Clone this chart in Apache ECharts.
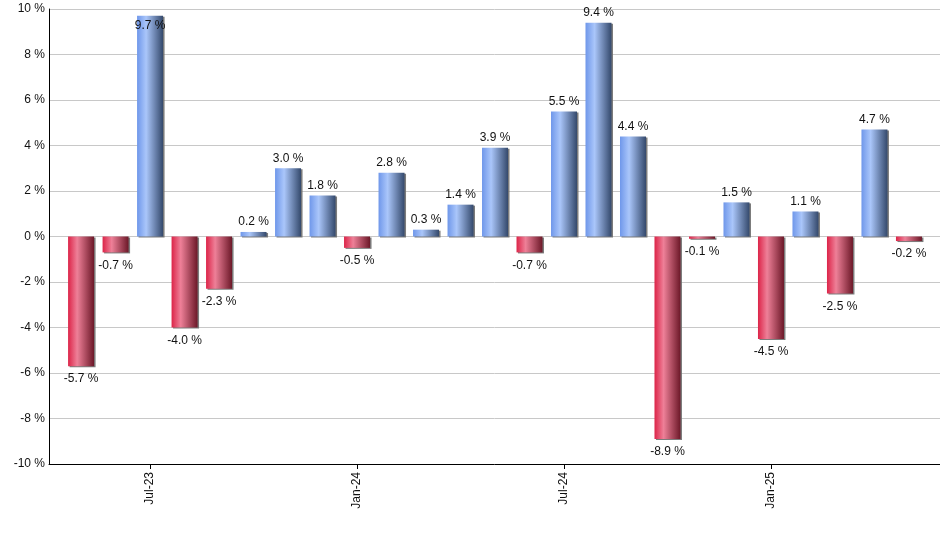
<!DOCTYPE html>
<html>
<head>
<meta charset="utf-8">
<script src="https://cdn.jsdelivr.net/npm/echarts@6/dist/echarts.min.js"></script>
<style>
html,body{margin:0;padding:0;background:#fff;}
#c{width:940px;height:550px;}
</style>
</head>
<body>
<div id="c"></div>
<script>
var months = ['May-23','Jun-23','Jul-23','Aug-23','Sep-23','Oct-23','Nov-23','Dec-23','Jan-24','Feb-24','Mar-24','Apr-24','May-24','Jun-24','Jul-24','Aug-24','Sep-24','Oct-24','Nov-24','Dec-24','Jan-25','Feb-25','Mar-25','Apr-25','May-25'];
var returns = [-5.7,-0.7,9.7,-4.0,-2.3,0.2,3.0,1.8,-0.5,2.8,0.3,1.4,3.9,-0.7,5.5,9.4,4.4,-8.9,-0.1,1.5,-4.5,1.1,-2.5,4.7,-0.2];
var tickIndices = [2,8,14,20];
var yTicks = [-10,-8,-6,-4,-2,0,2,4,6,8,10];

var FONT = 'Liberation Sans, Arial, sans-serif';
function grad(stops){
  return new echarts.graphic.LinearGradient(0,0,1,0,stops.map(function(s){return {offset:s[0],color:s[1]};}));
}
var blueStops = [[0,'#6f97ea'],[0.35,'#aac6fa'],[1,'#34496c']];
var redStops = [[0,'#dc2448'],[0.35,'#ee8098'],[1,'#6c1828']];

var data = returns.map(function(v,i){
  return {
    value:[i,v],
    itemStyle:{color: grad(v>=0?blueStops:redStops)},
    label: v>=0 ? {position: v>9.5?'insideTop':'top', distance:4}
                : {position:'bottom', distance:7}
  };
});

var chart = echarts.init(document.getElementById('c'), null, {renderer:'canvas'});
chart.setOption({
  animation:false,
  backgroundColor:'#fff',
  grid:{left:49,right:0,top:9,bottom:86,containLabel:false},
  xAxis:{
    type:'value', min:-0.93, max:24.9,
    splitLine:{show:false},
    axisLine:{show:true,onZero:false,lineStyle:{color:'#000',width:1}},
    axisTick:{show:true,customValues:tickIndices,length:5,lineStyle:{color:'#000'}},
    axisLabel:{show:true,customValues:tickIndices,rotate:90,margin:8,
      fontFamily:FONT,fontSize:12,color:'#111',
      formatter:function(v){return months[Math.round(v)];}}
  },
  yAxis:{
    type:'value', min:yTicks[0], max:yTicks[yTicks.length-1], interval:2,
    axisLine:{show:true,onZero:false,lineStyle:{color:'#000',width:1}},
    axisTick:{show:false},
    splitLine:{show:true,lineStyle:{color:'#c8c8c8',width:1}},
    axisLabel:{fontFamily:FONT,fontSize:12,color:'#111',margin:4,
      formatter:function(v){return v+' %';}}
  },
  series:[{
    type:'bar',
    barWidth:26,
    data:data,
    itemStyle:{shadowColor:'rgba(110,110,110,0.9)',shadowOffsetX:1.5,shadowOffsetY:1,shadowBlur:0},
    label:{show:true,fontFamily:FONT,fontSize:12,color:'#111',
      formatter:function(p){return p.value[1].toFixed(1)+' %';}}
  }]
});
</script>
</body>
</html>
